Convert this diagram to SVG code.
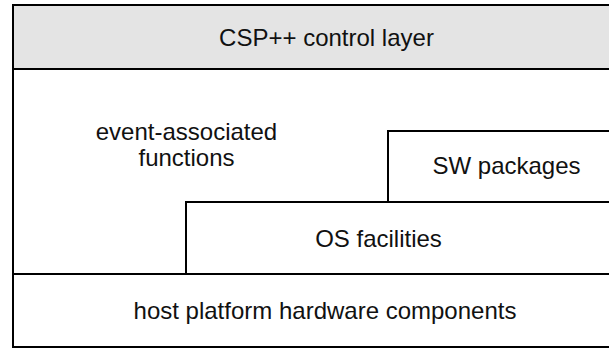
<svg xmlns="http://www.w3.org/2000/svg" width="609" height="349" viewBox="0 0 609 349">
  <style>
    .frame { fill: none; stroke: #000; stroke-width: 2; }
    .band { fill: #e4e4e4; stroke: #000; stroke-width: 2; }
    .edge { fill: none; stroke: #000; stroke-width: 2; }
    .label { font-family: "Liberation Sans", Arial, Helvetica, sans-serif; font-size: 24px; fill: #111; text-anchor: middle; }
  </style>
  <rect width="609" height="349" fill="#fff"/>

  <!-- top layer: control -->
  <g id="csp-control-layer">
    <rect class="band" x="13" y="5" width="640" height="64"/>
    <text class="label" x="326.5" y="45.5">CSP++ control layer</text>
  </g>

  <!-- middle region: event-associated functions -->
  <g id="event-associated-functions">
    <text class="label" x="186.5" y="140">event-associated</text>
    <text class="label" x="186.5" y="165.5">functions</text>
  </g>

  <!-- software packages step -->
  <g id="sw-packages">
    <path class="edge" d="M388 202 V131 H640"/>
    <text class="label" x="506.5" y="173.5">SW packages</text>
  </g>

  <!-- operating system step -->
  <g id="os-facilities">
    <path class="edge" d="M186 274 V202 H640"/>
    <text class="label" x="378.5" y="246.5">OS facilities</text>
  </g>

  <!-- bottom layer: hardware -->
  <g id="host-platform-hardware">
    <path class="edge" d="M13 274 H640"/>
    <text class="label" x="325" y="318.5">host platform hardware components</text>
  </g>

  <!-- outer frame -->
  <rect class="frame" x="13" y="5" width="640" height="342"/>
</svg>
